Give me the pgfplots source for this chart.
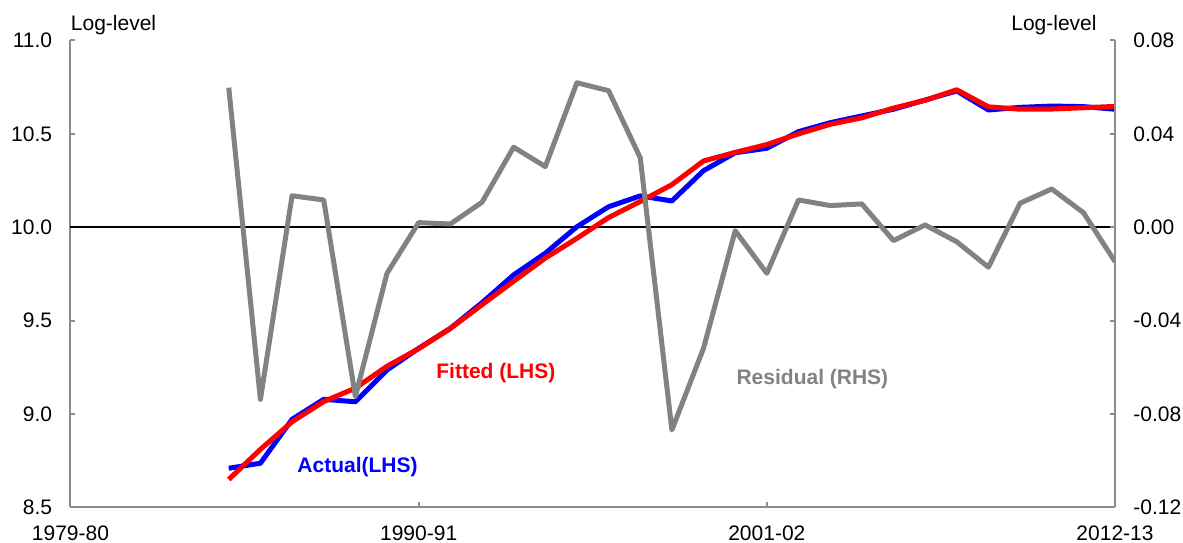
\documentclass[border=0pt]{standalone}
\usepackage{pgfplots}
\pgfplotsset{compat=1.18}
\usepackage{fontspec}
\setmainfont{Liberation Sans}
\definecolor{axgray}{HTML}{8C8C8C}
\definecolor{resgray}{HTML}{828282}
\begin{document}
\fontsize{10.5pt}{12.5pt}\selectfont
\begin{tikzpicture}
\pgfplotsset{
  every axis/.append style={
    width=522.25pt, height=233.5pt, scale only axis,
    xmin=1979, xmax=2012,
    tick align=inside, major tick length=2.5pt,
    tick style={draw=axgray, line width=1pt},
    axis line style={draw=axgray, line width=1pt, -},
    font=\fontsize{10.5pt}{12.5pt}\selectfont,
    /pgf/number format/assume math mode=true,
  }
}
\begin{axis}[
  axis x line*=bottom, axis y line*=left,
  ymin=8.5, ymax=11.0,
  ytick={8.5,9.0,9.5,10.0,10.5,11.0},
  yticklabels={8.5,9.0,9.5,10.0,10.5,11.0},
  yticklabel style={inner sep=0pt, xshift=-9pt},
  xtick={1979,1990,2001,2012},
  xticklabels={1979-80,1990-91,2001-02,2012-13},
  xticklabel style={inner sep=0pt, yshift=-9pt},
  clip=false,
]
\path ([xshift=-35.25pt,yshift=-17.75pt]rel axis cs:0,0) rectangle ([xshift=34pt,yshift=20.25pt]rel axis cs:1,1);
\addplot[black, line width=1pt, forget plot] coordinates {(1979,10.0) (2012,10.0)};
\addplot[blue, line width=2.5pt, line join=round] coordinates {
(1984,8.710) (1985,8.737) (1986,8.972) (1987,9.079) (1988,9.066) (1989,9.236)
(1990,9.352) (1991,9.459) (1992,9.596) (1993,9.745) (1994,9.861) (1995,10.003)
(1996,10.110) (1997,10.168) (1998,10.141) (1999,10.303) (2000,10.399) (2001,10.423)
(2002,10.512) (2003,10.560) (2004,10.596) (2005,10.632) (2006,10.681) (2007,10.730)
(2008,10.628) (2009,10.642) (2010,10.649) (2011,10.646) (2012,10.632)};
\addplot[red, line width=2.5pt, line join=round] coordinates {
(1984,8.650) (1985,8.811) (1986,8.959) (1987,9.067) (1988,9.139) (1989,9.256)
(1990,9.350) (1991,9.458) (1992,9.585) (1993,9.711) (1994,9.835) (1995,9.941)
(1996,10.052) (1997,10.138) (1998,10.228) (1999,10.355) (2000,10.401) (2001,10.443)
(2002,10.500) (2003,10.551) (2004,10.586) (2005,10.638) (2006,10.680) (2007,10.736)
(2008,10.645) (2009,10.632) (2010,10.633) (2011,10.640) (2012,10.647)};
\node[red, font=\bfseries\fontsize{10.5pt}{12.5pt}\selectfont] at (axis cs:1992.44,9.22) {Fitted (LHS)};
\node[blue, font=\bfseries\fontsize{10.5pt}{12.5pt}\selectfont] at (axis cs:1988.07,8.717) {Actual(LHS)};
\node[resgray, font=\bfseries\fontsize{10.5pt}{12.5pt}\selectfont] at (axis cs:2002.44,9.188) {Residual (RHS)};
\node[anchor=base west, inner sep=0pt] at ([yshift=4.75pt]rel axis cs:0,1) {Log-level};
\node[anchor=base east, inner sep=0pt] at ([xshift=-9pt,yshift=4.75pt]rel axis cs:1,1) {Log-level};
\end{axis}
\begin{axis}[
  axis x line=none, axis y line*=right,
  ymin=-0.12, ymax=0.08,
  ytick={-0.12,-0.08,-0.04,0,0.04,0.08},
  yticklabels={-0.12,-0.08,-0.04,0.00,0.04,0.08},
  yticklabel style={inner sep=0pt, xshift=9pt},
]
\addplot[resgray, line width=2.5pt, line join=round] coordinates {
(1984,0.0598) (1985,-0.0737) (1986,0.0135) (1987,0.0117) (1988,-0.0725) (1989,-0.0197)
(1990,0.0020) (1991,0.0014) (1992,0.0107) (1993,0.0343) (1994,0.0260) (1995,0.0619)
(1996,0.0585) (1997,0.0298) (1998,-0.0868) (1999,-0.0518) (2000,-0.0015) (2001,-0.0197)
(2002,0.0117) (2003,0.0093) (2004,0.0100) (2005,-0.0057) (2006,0.0010) (2007,-0.0062)
(2008,-0.0171) (2009,0.0103) (2010,0.0164) (2011,0.0063) (2012,-0.0147)};
\end{axis}
\end{tikzpicture}
\end{document}
